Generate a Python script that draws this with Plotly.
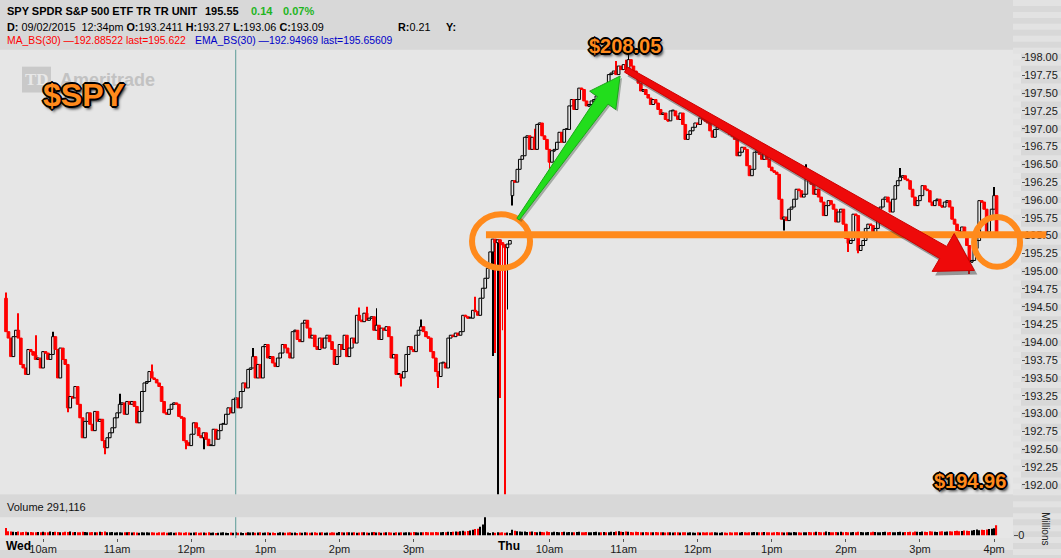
import math
import plotly.graph_objects as go

W, H = 1061, 558

# ---------------- data (2-minute bars) ----------------
open_first = 194.62
close_wed = [
    194.15, 194.06, 193.80, 194.08, 194.17, 194.06, 193.69, 193.64, 193.55, 193.90,
    193.87, 193.82, 193.76, 193.78, 193.64, 193.87, 193.85, 193.76, 193.83, 194.08,
    193.90, 193.50, 193.92, 193.76, 193.69, 193.08, 193.24, 193.22, 193.38, 193.13,
    192.94, 192.66, 192.89, 193.01, 192.85, 192.76, 193.03, 192.89, 192.92, 192.62,
    192.52, 192.66, 192.73, 192.80, 192.94, 193.01, 193.13, 193.15, 192.99, 193.17,
    193.13, 193.17, 193.10, 192.87, 193.03, 193.31, 193.43, 193.45, 193.59, 193.50,
    193.48, 193.43, 193.38, 193.17, 193.01, 192.99, 193.06, 193.13, 193.15, 193.13,
    192.96, 192.94, 192.62, 192.59, 192.55, 192.71, 192.87, 192.80, 192.69, 192.66,
    192.73, 192.64, 192.55, 192.55, 192.78, 192.64, 192.76, 192.85, 192.85, 192.99,
    193.08, 193.01, 193.20, 193.22, 193.08, 193.31, 193.43, 193.36, 193.62, 193.64,
    193.80, 193.50, 193.69, 193.50,
    193.94, 193.97, 193.78, 193.80, 193.71, 193.66, 193.78, 193.85, 193.97, 193.92,
    193.85, 193.78, 194.15, 194.17, 194.04, 194.01, 194.27, 194.31, 194.20, 194.06,
    194.10, 193.94, 193.90, 194.06, 193.92, 194.06, 194.10, 194.01, 193.90, 193.69,
    193.80, 193.97, 193.90, 194.10, 193.80, 193.92, 194.06, 193.99, 194.38,
    194.31, 194.29, 194.41, 194.31, 194.34, 194.36, 194.17, 194.24, 194.04,
    194.20, 194.17, 194.22, 194.08, 193.78, 193.83, 193.55, 193.55, 193.50, 193.59,
    193.83, 193.94, 193.90, 193.87, 194.10, 194.17, 194.22, 194.15, 194.08, 194.06,
    193.87, 193.78, 193.59, 193.52, 193.71, 193.71, 193.64, 194.06, 194.10, 194.08,
    194.13, 194.10, 194.15, 194.38, 194.36, 194.34, 194.34, 194.45, 194.43, 194.38,
    194.62, 194.76, 194.90, 195.04, 195.27, 195.45, 195.40,
]
close_gap = [195.44, 195.40, 195.37, 195.33, 195.38, 195.43]
close_thu = [
    196.27, 196.25, 196.43, 196.57, 196.62, 196.88, 196.90, 196.71, 196.88, 196.71,
    197.06, 197.08, 196.90, 196.85, 196.71, 196.53, 196.69, 196.71, 196.81, 196.95,
    196.81, 196.99, 196.99, 197.32, 197.41, 197.27, 197.41, 197.57, 197.55, 197.39,
    197.32, 197.34, 197.39, 197.41, 197.46, 197.48, 197.41, 197.43, 197.41, 197.76,
    197.78, 197.81, 197.76, 197.88, 197.83, 197.90, 197.83, 197.97, 197.88, 197.81,
    197.74, 197.64, 197.53, 197.55, 197.48, 197.43, 197.34, 197.41, 197.36, 197.27,
    197.20, 197.22, 197.13, 197.11, 197.25, 197.25, 197.18, 197.13, 197.22, 197.06,
    196.85, 196.92, 196.97, 197.02, 197.08, 197.06, 197.15, 197.13, 197.11, 197.08,
    196.97, 196.88, 196.99, 197.02, 197.04, 197.06, 196.99, 196.95, 196.92, 196.90,
    196.85, 196.62, 196.67, 196.74, 196.71, 196.48, 196.34, 196.43, 196.67, 196.69,
    196.64, 196.57, 196.69, 196.57, 196.46, 196.41, 196.39, 196.36, 196.01, 195.73,
    195.76, 195.71, 195.87, 195.90, 196.01, 196.15, 196.13, 196.04, 196.08, 196.29,
    196.27, 196.22, 196.08, 196.15, 196.04, 195.97, 195.78, 195.92, 195.99, 195.94,
    195.87, 195.69, 195.83, 195.87, 195.66, 195.46, 195.39, 195.43, 195.80, 195.78,
    195.29, 195.36, 195.43, 195.60, 195.66, 195.64, 195.48, 195.60, 195.87, 195.90,
    196.01, 196.04, 195.97, 195.83, 196.01, 196.20, 196.27, 196.32, 196.34, 196.29,
    196.27, 196.15, 196.04, 195.92, 195.99, 196.06, 196.20, 196.15, 196.13, 195.97,
    195.92, 195.99, 196.01, 195.92, 195.90, 195.97, 195.99, 195.90, 195.73, 195.66,
    195.57, 195.55, 195.62, 195.50, 195.36, 195.13, 195.15, 195.32, 195.43, 195.99,
    195.97, 195.87, 195.55, 195.73, 195.87, 196.06, 195.55,
]
open_overrides = {205: 196.06}
high_overrides = {0: 194.70, 5: 194.41, 12: 194.10, 19: 194.15, 46: 193.28, 59: 193.69,
                  100: 193.92, 143: 194.49, 146: 194.50, 150: 194.48, 168: 194.32,
                  190: 194.64, 214: 197.00, 247: 197.95, 251: 197.97, 252: 198.05,
                  324: 196.50, 362: 196.45, 400: 196.18}
low_overrides = {25: 193.02, 40: 192.43, 73: 192.50, 80: 192.50, 160: 193.38, 175: 193.36,
                 197: 193.81, 198: 193.85, 199: 191.50, 200: 193.22, 201: 194.17,
                 202: 191.50, 203: 194.46, 205: 195.92, 220: 196.43, 315: 195.57,
                 341: 195.27, 345: 195.25, 390: 194.96}

volume_k = [
    330, 180, 170, 160, 150, 170, 140, 150, 160, 130, 150, 140, 130, 150, 140, 160, 130, 140, 170, 150,
    160, 150, 140, 130, 160, 150, 170, 140, 150, 130, 140, 160, 150, 140, 130, 150, 140, 130, 160, 150,
    170, 140, 130, 150, 120, 140, 130, 120, 140, 130, 150, 120, 130, 120, 110, 130, 120, 140, 120, 130,
    120, 110, 130, 120, 140, 110, 120, 130, 110, 120, 140, 120, 110, 130, 120, 110, 120, 130, 110, 120,
    120, 110, 130, 110, 120, 100, 110, 120, 130, 110, 100, 120, 110, 130, 110, 120, 100, 110, 140, 120,
    130, 110, 120, 140, 110, 120, 130, 110, 120, 100, 110, 130, 120, 110, 120, 130, 110, 120, 100, 120,
    110, 130, 120, 110, 120, 140, 110, 120, 130, 110, 120, 110, 130, 120, 110, 150, 130, 120, 140, 130,
    120, 130, 110, 120, 130, 140, 120, 110, 130, 150, 120, 130, 110, 120, 140, 130, 120, 110, 130, 120,
    130, 120, 140, 130, 120, 150, 130, 120, 140, 130, 150, 140, 130, 140, 150, 130, 140, 150, 140, 160,
    150, 160, 170, 160, 180, 200, 170, 190, 220, 250, 280, 300, 380, 490, 900,
    120, 100, 130, 110, 140, 120, 130, 110, 120, 100,
    250, 200, 180, 170, 160, 170, 150, 160, 170, 150, 140, 160, 150, 140, 170, 150, 140, 160, 150, 140,
    150, 160, 140, 150, 130, 140, 150, 160, 140, 130, 150, 140, 130, 150, 160, 140, 130, 150, 140, 130,
    160, 150, 170, 180, 160, 150, 170, 160, 150, 140, 160, 150, 140, 130, 150, 140, 130, 140, 150, 130,
    140, 130, 120, 140, 130, 120, 140, 130, 120, 130, 140, 120, 130, 120, 110, 130, 120, 140, 120, 130,
    120, 130, 140, 120, 110, 130, 120, 110, 130, 120, 140, 130, 120, 150, 130, 120, 140, 130, 150, 140,
    130, 140, 150, 130, 140, 120, 130, 150, 140, 130, 120, 140, 130, 120, 150, 140, 130, 120, 140, 130,
    150, 140, 130, 160, 150, 140, 130, 170, 150, 140, 130, 150, 140, 160, 130, 150, 140, 130, 150, 140,
    160, 150, 140, 130, 150, 140, 160, 150, 140, 130, 150, 160, 140, 150, 130, 140, 150, 160, 140, 150,
    150, 160, 140, 170, 160, 150, 170, 160, 150, 180, 170, 160, 150, 170, 180, 160, 170, 180, 170, 190,
    200, 180, 190, 210, 200, 190, 220, 240, 260, 230, 250, 240, 260, 280, 300, 320, 450,
]

hour_ticks = [15, 45, 75, 105, 135, 165, 220, 250, 280, 310, 340, 370, 400]
hour_labels = ["10am", "11am", "12pm", "1pm", "2pm", "3pm",
               "10am", "11am", "12pm", "1pm", "2pm", "3pm", "4pm"]
price_ticks = [192.00, 192.25, 192.50, 192.75, 193.00, 193.25, 193.50, 193.75,
               194.00, 194.25, 194.50, 194.75, 195.00, 195.25, 195.50, 195.75,
               196.00, 196.25, 196.50, 196.75, 197.00, 197.25, 197.50, 197.75, 198.00]
cursor_bar = 93
peak_bar, peak_price = 252, 198.05
trough_bar, trough_price = 390, 194.96
level_price = 195.51

# ---------------- build OHLC ----------------
closes = close_wed + close_gap + close_thu
n = len(closes)
xs = list(range(n))
opens = [open_first] + closes[:-1]
for k, v in open_overrides.items():
    opens[k] = v
highs = [max(o, c) for o, c in zip(opens, closes)]
lows = [min(o, c) for o, c in zip(opens, closes)]
for k, v in high_overrides.items():
    highs[k] = max(v, highs[k])
for k, v in low_overrides.items():
    lows[k] = min(v, lows[k])
up = [c >= o for o, c in zip(opens, closes)]
body_base = [min(o, c) for o, c in zip(opens, closes)]
body_len = [max(abs(c - o), 0.012) for o, c in zip(opens, closes)]
wick_len = [h - l for h, l in zip(highs, lows)]
PLOT_BG = "#e6e6e6"
body_fill = [PLOT_BG if u else "#ff0000" for u in up]
body_line = ["#000000" if u else "#ff0000" for u in up]
vol = [v / 1000.0 for v in volume_k[:n]]

# ---------------- geometry ----------------
PLOT_R = 1021
VOL_R = 1013
XR0, XR1 = -2.43, 410.9
YR0, YR1 = 191.866, 198.109
P_TOP, P_BOT = 50, 497
V_TOP, V_BOT = 520, 541


def bx(i):
    return (i - XR0) / (XR1 - XR0) * PLOT_R


def py(p):
    return P_TOP + (YR1 - p) / (YR1 - YR0) * (P_BOT - P_TOP)


def PX(x):
    return x / W


def PY(y):
    return 1 - y / H


def arrow_path(x0, y0, x1, y1, tail_hw, neck_hw, head_len, head_hw, dx=0, dy=0):
    L = math.hypot(x1 - x0, y1 - y0)
    ux, uy = (x1 - x0) / L, (y1 - y0) / L
    nx, ny = -uy, ux
    cx, cy = x1 - ux * head_len, y1 - uy * head_len
    pts = [
        (x0 + nx * tail_hw, y0 + ny * tail_hw),
        (cx + nx * neck_hw, cy + ny * neck_hw),
        (cx + nx * head_hw, cy + ny * head_hw),
        (x1, y1),
        (cx - nx * head_hw, cy - ny * head_hw),
        (cx - nx * neck_hw, cy - ny * neck_hw),
        (x0 - nx * tail_hw, y0 - ny * tail_hw),
    ]
    s = ""
    for j, (a, b) in enumerate(pts):
        s += ("M" if j == 0 else " L") + f" {PX(a + dx):.5f},{PY(b + dy):.5f}"
    return s + " Z"


ORANGE = "#ff8a1c"

fig = go.Figure()
# wicks
fig.add_trace(go.Bar(
    x=xs, y=wick_len, base=lows, width=0.36,
    marker=dict(color=body_line, line=dict(width=0)),
    xaxis="x", yaxis="y", showlegend=False, hoverinfo="skip",
))
# bodies (hollow up candles, filled red down candles)
fig.add_trace(go.Bar(
    x=xs, y=body_len, base=body_base, width=1.08,
    marker=dict(color=body_fill, line=dict(color=body_line, width=1)),
    xaxis="x", yaxis="y", showlegend=False, hoverinfo="skip",
))
# volume
fig.add_trace(go.Bar(
    x=xs, y=vol, marker=dict(color=body_line, line=dict(width=0)), width=0.45,
    xaxis="x2", yaxis="y2", showlegend=False, hoverinfo="skip",
))

shapes = []
# right column stripes
for k in range(0, H, 12):
    shapes.append(dict(type="rect", xref="paper", yref="paper", layer="below",
                       x0=PX(1013), x1=1, y0=PY(k + 6), y1=PY(k),
                       fillcolor="#e2e2e2", line=dict(width=0)))
# label strip under volume
shapes.append(dict(type="rect", xref="paper", yref="paper", layer="below",
                   x0=0, x1=PX(VOL_R), y0=PY(553), y1=PY(V_BOT),
                   fillcolor="#e3e3e3", line=dict(width=0)))
# cursor line
for (a, b) in [(P_TOP, P_BOT), (V_TOP, V_BOT)]:
    shapes.append(dict(type="line", xref="x", yref="paper", x0=cursor_bar, x1=cursor_bar,
                       y0=PY(b), y1=PY(a), line=dict(color="#5a9a96", width=1)))
# TD watermark box
shapes.append(dict(type="rect", xref="paper", yref="paper", x0=PX(22), x1=PX(51),
                   y0=PY(93), y1=PY(67), fillcolor="#c9c9c9", line=dict(width=0), layer="above"))
# orange level line
shapes.append(dict(type="line", xref="paper", yref="paper",
                   x0=PX(bx(194.3)), x1=PX(1046), y0=PY(py(level_price)), y1=PY(py(level_price)),
                   line=dict(color=ORANGE, width=7)))
# orange circles
for (cb, cp, rx, ry) in [(200.4, 195.42, 29, 27), (401.2, 195.41, 23, 25)]:
    cx, cy = bx(cb), py(cp)
    shapes.append(dict(type="circle", xref="paper", yref="paper",
                       x0=PX(cx - rx), x1=PX(cx + rx), y0=PY(cy + ry), y1=PY(cy - ry),
                       line=dict(color=ORANGE, width=6)))
# green arrow
g0 = (bx(207.3), py(195.73))
g1 = (bx(248.6), py(197.74))
shapes.append(dict(type="path", xref="paper", yref="paper",
                   path=arrow_path(*g0, *g1, 1.5, 6.5, 30, 16, dx=2, dy=2),
                   fillcolor="rgba(40,60,40,0.35)", line=dict(width=0)))
shapes.append(dict(type="path", xref="paper", yref="paper",
                   path=arrow_path(*g0, *g1, 1.5, 6.5, 30, 16),
                   fillcolor="#22dd1c", line=dict(color="#1aa818", width=1)))
# red arrow
r0 = (bx(peak_bar - 1), py(197.83))
r1 = (bx(trough_bar + 2), py(195.01))
shapes.append(dict(type="path", xref="paper", yref="paper",
                   path=arrow_path(*r0, *r1, 3, 7, 36, 22, dx=3, dy=4),
                   fillcolor="rgba(50,50,50,0.45)", line=dict(width=0)))
shapes.append(dict(type="path", xref="paper", yref="paper",
                   path=arrow_path(*r0, *r1, 3, 7, 36, 22),
                   fillcolor="#ee0a0a", line=dict(color="#cc0000", width=1)))

FONT = "Liberation Sans"
OUTLINE = ("-1px -1px 0 #000, 1px -1px 0 #000, -1px 1px 0 #000, 1px 1px 0 #000, "
           "0 2px 0 #000, 2px 0 0 #000, -2px 0 0 #000, 0 -2px 0 #000, 2px 3px 3px #222")


def ann(text, x, y, size=11, color="#000000", xanchor="left", family=FONT, **kw):
    d = dict(text=text, xref="paper", yref="paper", x=PX(x), y=PY(y),
             xanchor=xanchor, yanchor="middle", showarrow=False,
             font=dict(family=family, size=size, color=color))
    d["font"].update(kw.pop("fontkw", {}))
    d.update(kw)
    return d


anns = [
    ann("<b>SPY SPDR S&P 500 ETF TR TR UNIT</b>", 5, 11),
    ann("<b>195.55</b>", 203, 11),
    ann("<b>0.14</b>", 249, 11, color="#1fb51f"),
    ann("<b>0.07%</b>", 281, 11, color="#1fb51f"),
    ann("<b>D:</b> 09/02/2015  12:34pm <b>O:</b>193.2411 <b>H:</b>193.27 <b>L:</b>193.06 <b>C:</b>193.09",
        5, 27, size=10.8),
    ann("<b>R:</b>0.21", 396, 27, size=10.8),
    ann("<b>Y:</b>", 444, 27, size=10.8),
    ann("MA_BS(30) \u2014192.88522 last=195.622", 5, 41, size=10.4, color="#ff0000"),
    ann("EMA_BS(30) \u2014192.94969 last=195.65609", 193, 41, size=10.4, color="#0000c8"),
    ann("Volume 291,116", 5, 510, color="#111111"),
    ann("<b>Wed</b>", 4, 549, size=12),
    ann("<b>Thu</b>", 496, 549, size=12),
    ann("Millions", 1046, 531, size=10, xanchor="center", textangle=90, color="#222222"),
    ann("<b>TD</b>", 36.5, 80, size=17, color="#e8e8e8", xanchor="center", family="Liberation Serif"),
    ann("<b>Ameritrade</b>", 58, 80, size=18, color="#c2c2c2"),
    ann("<b>$SPY</b>", 41, 96, size=32, color=ORANGE, fontkw=dict(shadow=OUTLINE)),
    ann(f"<b>${peak_price + 10:.2f}</b>", bx(peak_bar) - 3, 46, size=20, color=ORANGE,
        xanchor="center", fontkw=dict(shadow=OUTLINE)),
    ann(f"<b>${trough_price:.2f}</b>", bx(trough_bar) + 1, 484, size=20, color=ORANGE,
        xanchor="center", fontkw=dict(shadow=OUTLINE)),
]

fig.update_layout(
    width=W, height=H, autosize=False,
    margin=dict(l=0, r=0, t=0, b=0),
    paper_bgcolor="#d8d8d8", plot_bgcolor=PLOT_BG,
    barmode="overlay",
    showlegend=False,
    font=dict(family=FONT, size=11, color="#1a1a1a"),
    xaxis=dict(domain=[0, PLOT_R / W], range=[XR0, XR1], anchor="y",
               showticklabels=False, showgrid=False, zeroline=False, ticks="",
               fixedrange=True),
    yaxis=dict(domain=[PY(P_BOT), PY(P_TOP)], range=[YR0, YR1], anchor="x", side="right",
               tickvals=price_ticks, ticktext=[f"{v:.2f}" for v in price_ticks],
               ticks="outside", ticklen=3, tickcolor="#555555", showgrid=False, zeroline=False,
               ticklabelstandoff=-3,
               tickfont=dict(size=11, color="#1a1a1a"), fixedrange=True),
    xaxis2=dict(domain=[0, VOL_R / W],
                range=[XR0, XR0 + (XR1 - XR0) * VOL_R / PLOT_R], anchor="y2",
                tickvals=hour_ticks, ticktext=hour_labels, ticks="outside", ticklen=3,
                tickcolor="#555555", showgrid=False, zeroline=False, ticklabelstandoff=-2,
                tickfont=dict(size=11, color="#1a1a1a"), fixedrange=True),
    yaxis2=dict(domain=[PY(V_BOT), PY(V_TOP)], range=[-0.13, 0.82], anchor="x2", side="right",
                tickvals=[0], ticktext=["0"], ticks="outside", ticklen=4, tickcolor="#555555",
                showgrid=False, zeroline=False, tickfont=dict(size=11, color="#1a1a1a"),
                ticklabelstandoff=-2, fixedrange=True),
    shapes=shapes,
    annotations=anns,
)

fig.write_html("out.html", config={"displayModeBar": False},
               post_script="document.body.style.margin='0';document.body.style.overflow='hidden';")
